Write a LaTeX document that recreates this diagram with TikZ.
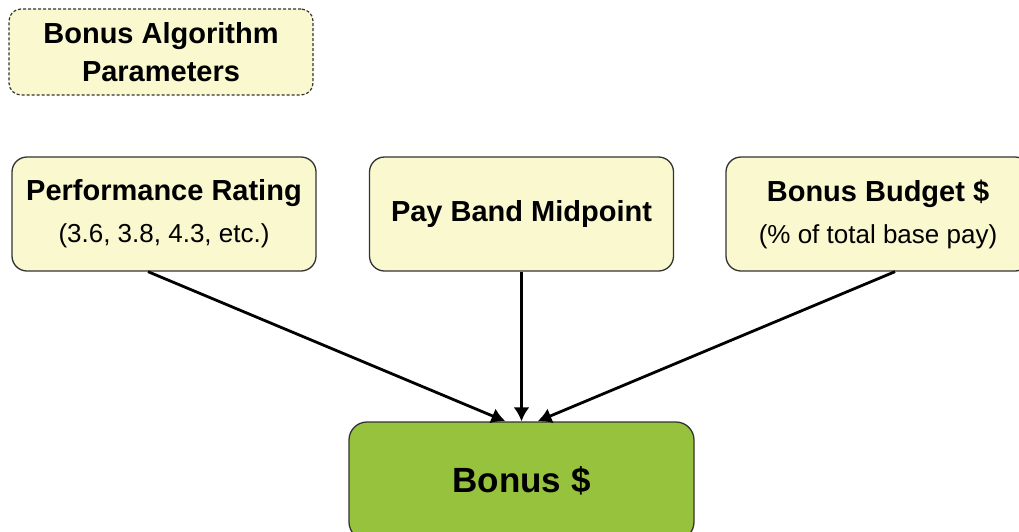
\documentclass[tikz,border=0pt]{standalone}
\usepackage{fontspec}
\setmainfont{Liberation Sans}
\usetikzlibrary{arrows.meta,calc}
\definecolor{boxyellow}{HTML}{FAF8CE}
\definecolor{boxgreen}{HTML}{97C23D}
\definecolor{edgegray}{HTML}{333333}
\tikzset{
  parambox/.style={draw=edgegray, line width=1.3pt, fill=boxyellow, rounded corners=15pt,
    minimum width=304pt, minimum height=114pt, align=center, inner sep=0pt},
  titlebox/.style={draw=edgegray, line width=1.2pt, dashed, dash pattern=on 3pt off 2pt, fill=boxyellow, rounded corners=12pt,
    minimum width=304pt, minimum height=86pt, align=center, inner sep=0pt},
  resultbox/.style={draw=edgegray, line width=1.3pt, fill=boxgreen, rounded corners=18pt,
    minimum width=345pt, minimum height=118pt, align=center, inner sep=0pt},
  feed/.style={line width=2.8pt, -{Latex[length=14pt,width=16pt]}},
}
\newcommand{\subt}[1]{{\fontsize{26}{30}\selectfont #1}}
\begin{document}
\begin{tikzpicture}[x=1pt,y=-1pt]
\useasboundingbox (0,0) rectangle (1019,531);
\clip (0,0) rectangle (1019,531);
\node[titlebox, font=\fontsize{29}{38}\selectfont\bfseries] (params) at (161,52) {\raisebox{-2pt}{Bonus Algorithm}\\\raisebox{-2pt}{Parameters}};
\node[parambox, font=\fontsize{29}{44}\selectfont\bfseries] (perf) at (164,214) {\raisebox{-2pt}{Performance Rating}\\\mdseries\subt{(3.6, 3.8, 4.3, etc.)}};
\node[parambox, font=\fontsize{29}{44}\selectfont\bfseries] (pay) at (521.5,214) {Pay Band Midpoint};
\node[parambox, font=\fontsize{29}{44}\selectfont\bfseries] (budget) at (878,214) {\raisebox{-2pt}{Bonus Budget \$}\\\mdseries\subt{(\% of total base pay)}};
\node[resultbox, font=\fontsize{35}{40}\selectfont\bfseries] (bonus) at (521.5,481) {Bonus \$};
\draw[feed] ([xshift=-16pt]perf.south) -- ([xshift=-16pt]bonus.north);
\draw[feed] (pay.south) -- (bonus.north);
\draw[feed] ([xshift=17pt]budget.south) -- ([xshift=16pt]bonus.north);
\end{tikzpicture}
\end{document}
